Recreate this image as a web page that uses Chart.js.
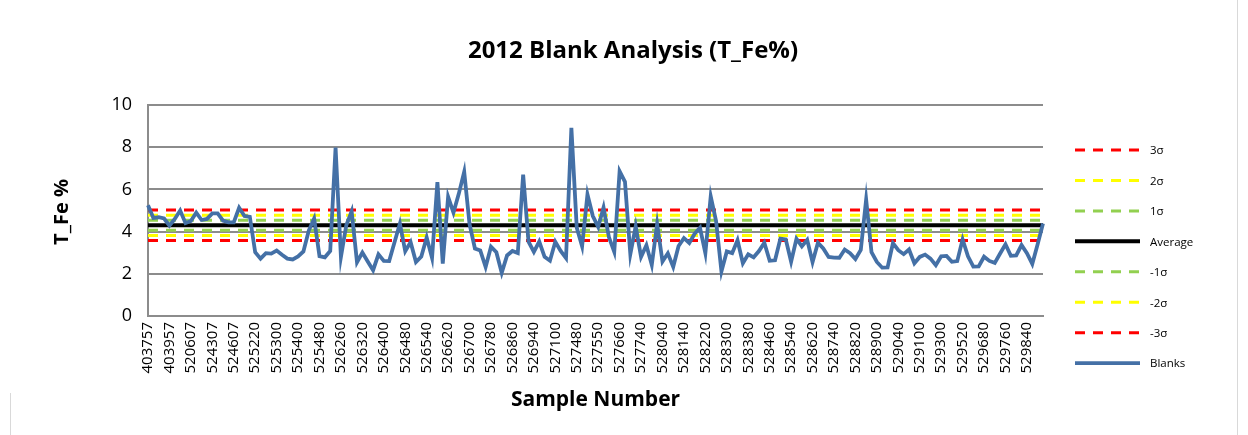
<!DOCTYPE html>
<html>
<head>
<meta charset="utf-8">
<title>2012 Blank Analysis (T_Fe%)</title>
<script src="https://cdn.jsdelivr.net/npm/chart.js@4.4.1/dist/chart.umd.min.js"></script>
<style>
    html, body { margin: 0; padding: 0; background: #fff; }
    #wrap { width: 1248px; height: 435px; }
</style>
</head>
<body>
<div id="wrap"><canvas id="myChart" width="1248" height="435"></canvas></div>
<script>
// tick labels shown on the x axis (every 4th sample)
const tickLabels = [
    '403757', '403957', '520607', '524307', '524607', '525220', '525300', '525400',
    '525480', '526260', '526320', '526400', '526480', '526540', '526620', '526700',
    '526780', '526860', '526940', '527100', '527480', '527550', '527660', '527740',
    '528040', '528140', '528220', '528300', '528380', '528460', '528540', '528620',
    '528740', '528820', '528900', '529040', '529100', '529300', '529520', '529680',
    '529760', '529840'
];
const labelStep = 4;

// T_Fe % of each blank, in sample order
const blanks = [
    5.25, 4.65, 4.68, 4.62, 4.28, 4.6, 5.0, 4.4, 4.5, 4.9,
    4.55, 4.6, 4.86, 4.86, 4.52, 4.44, 4.44, 5.13, 4.74, 4.7,
    3.02, 2.72, 2.98, 2.96, 3.1, 2.9, 2.72, 2.68, 2.82, 3.06,
    4.05, 4.62, 2.84, 2.78, 3.08, 7.98, 2.8, 4.3, 4.96, 2.55,
    3.01, 2.58, 2.17, 2.92, 2.61, 2.6, 3.5, 4.38, 3.07, 3.5,
    2.56, 2.82, 3.72, 2.75, 6.34, 2.48, 5.65, 4.9, 5.8, 6.83,
    4.35, 3.2, 3.11, 2.32, 3.28, 3.02, 2.05, 2.87, 3.08, 2.98,
    6.7, 3.52, 3.04, 3.53, 2.8, 2.62, 3.52, 3.08, 2.74, 8.92,
    4.19, 3.3, 5.76, 4.74, 4.22, 5.14, 3.74, 3.04, 6.86, 6.36,
    2.93, 4.25, 2.8, 3.35, 2.42, 4.36, 2.58, 2.97, 2.33, 3.32,
    3.69, 3.46, 3.9, 4.18, 2.98, 5.67, 4.5, 2.11, 3.06, 2.98,
    3.59, 2.5, 2.92, 2.78, 3.08, 3.47, 2.62, 2.64, 3.67, 3.63,
    2.57, 3.66, 3.3, 3.61, 2.55, 3.47, 3.2, 2.8, 2.77, 2.76,
    3.15, 2.98, 2.7, 3.13, 5.52, 3.02, 2.56, 2.29, 2.3, 3.45,
    3.12, 2.93, 3.15, 2.5, 2.8, 2.91, 2.72, 2.41, 2.83, 2.85,
    2.57, 2.6, 3.63, 2.83, 2.34, 2.35, 2.81, 2.61, 2.52, 2.96,
    3.4, 2.85, 2.87, 3.36, 2.98, 2.47, 3.4, 4.38
];

// control levels
const levelNames = ['3σ', '2σ', '1σ', 'Average', '-1σ', '-2σ', '-3σ'];
const levelValues = [5.02, 4.78, 4.54, 4.30, 4.06, 3.82, 3.58];
const levelColors = ['#ff0000', '#ffff00', '#92d050', '#000000', '#92d050', '#ffff00', '#ff0000'];

const yTicks = [0, 2, 4, 6, 8, 10];

const FONT = '"Open Sans", "DejaVu Sans", sans-serif';
const gridColor = '#8c8c8c';
const blueLine = '#4470a6';

const sampleIndex = blanks.map((v, i) => i);

const datasets = levelNames.map((name, i) => ({
    label: name,
    data: sampleIndex.map(() => levelValues[i]),
    borderColor: levelColors[i],
    backgroundColor: levelColors[i],
    borderWidth: name === 'Average' ? 4 : 3,
    borderDash: name === 'Average' ? [] : [10, 8],
    pointRadius: 0,
    fill: false,
    order: 2
}));
datasets.push({
    label: 'Blanks',
    data: blanks,
    borderColor: blueLine,
    backgroundColor: blueLine,
    borderWidth: 3.8,
    pointRadius: 0,
    tension: 0,
    fill: false,
    order: 1
});

// titles, legend and frame drawn around the plot
const decorations = {
    id: 'decorations',
    afterDraw(chart) {
        const ctx = chart.ctx;
        const area = chart.chartArea;
        ctx.save();

        // outer frame pieces
        ctx.strokeStyle = '#d9d9d9';
        ctx.lineWidth = 1;
        ctx.beginPath();
        ctx.moveTo(1237.5, 0);
        ctx.lineTo(1237.5, 435);
        ctx.moveTo(10.5, 393);
        ctx.lineTo(10.5, 435);
        ctx.stroke();

        ctx.fillStyle = '#000';
        ctx.textAlign = 'center';
        ctx.textBaseline = 'middle';

        ctx.font = 'bold 24px ' + FONT;
        ctx.fillText('2012 Blank Analysis (T_Fe%)', 633, 51);

        ctx.font = 'bold 21px ' + FONT;
        ctx.fillText('Sample Number', (area.left + area.right) / 2, 400);

        ctx.save();
        ctx.translate(62, 212);
        ctx.rotate(-Math.PI / 2);
        ctx.font = 'bold 20px ' + FONT;
        ctx.fillText('T_Fe %', 0, 0);
        ctx.restore();

        // legend
        ctx.font = '11.5px ' + FONT;
        ctx.textAlign = 'left';
        chart.data.datasets.forEach((ds, i) => {
            const y = 150 + i * 30.45;
            ctx.save();
            ctx.strokeStyle = ds.borderColor;
            ctx.lineWidth = ds.borderWidth;
            ctx.setLineDash(ds.borderDash || []);
            ctx.beginPath();
            ctx.moveTo(1075, y);
            ctx.lineTo(1140, y);
            ctx.stroke();
            ctx.restore();
            ctx.fillStyle = '#000';
            ctx.fillText(ds.label, 1150, y + 1);
        });
        ctx.restore();
    }
};

const ctx = document.getElementById('myChart').getContext('2d');
new Chart(ctx, {
    type: 'line',
    data: {
        labels: sampleIndex,
        datasets: datasets
    },
    options: {
        responsive: false,
        animation: false,
        devicePixelRatio: 1,
        layout: {
            padding: { top: 105, right: 205, left: 0, bottom: 0 }
        },
        scales: {
            x: {
                type: 'category',
                offset: false,
                grid: { display: false, drawTicks: false },
                border: { display: true, color: gridColor, width: 2 },
                ticks: {
                    autoSkip: false,
                    minRotation: 90,
                    maxRotation: 90,
                    padding: 6,
                    color: '#000',
                    font: { family: FONT, size: 15 },
                    callback: function (value, index) {
                        return index % labelStep === 0 ? tickLabels[index / labelStep] : null;
                    }
                },
                afterFit: function (scale) {
                    scale.height = 119;
                }
            },
            y: {
                min: 0,
                max: 10,
                afterBuildTicks: function (scale) {
                    scale.ticks = yTicks.map(v => ({ value: v }));
                },
                grid: { color: gridColor, lineWidth: 2, drawTicks: false },
                border: { display: true, color: gridColor, width: 2 },
                ticks: {
                    padding: 16,
                    color: '#000',
                    font: { family: FONT, size: 18 }
                },
                afterFit: function (scale) {
                    scale.width = 148;
                }
            }
        },
        plugins: {
            legend: { display: false },
            title: { display: false },
            tooltip: { enabled: false }
        }
    },
    plugins: [decorations]
});
</script>
</body>
</html>
